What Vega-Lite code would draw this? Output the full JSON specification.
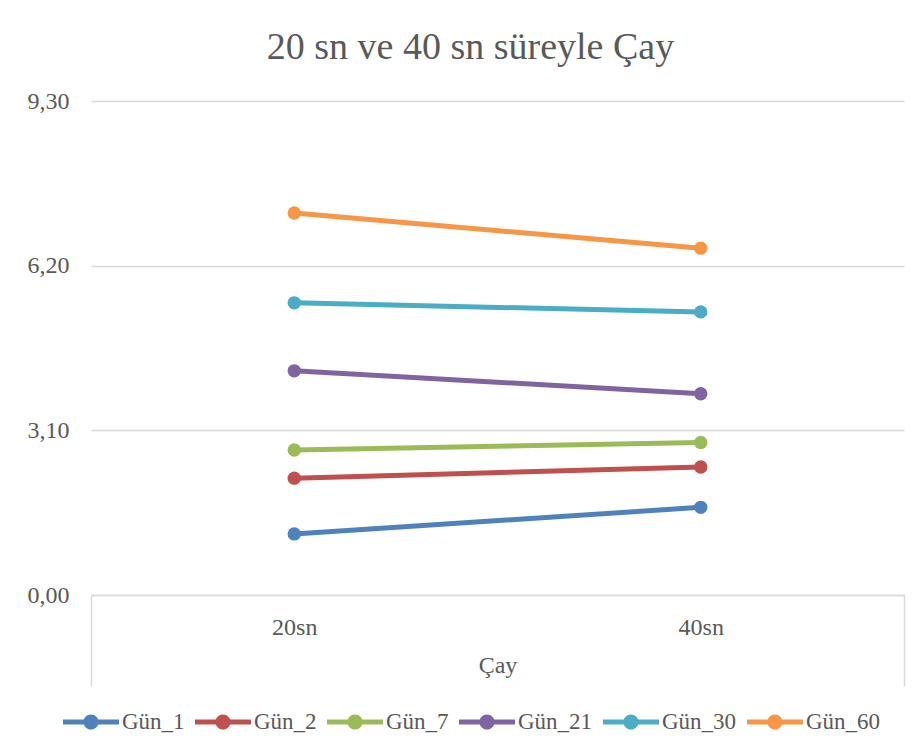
{
  "$schema": "https://vega.github.io/schema/vega-lite/v6.json",
  "width": 813,
  "height": 494,
  "autosize": "none",
  "padding": {"left": 91, "top": 101, "right": 20, "bottom": 161},
  "background": "white",
  "config": {
    "view": {"stroke": null},
    "font": "Liberation Serif"
  },
  "title": {
    "text": "20 sn ve 40 sn süreyle Çay",
    "font": "Liberation Serif",
    "fontSize": 38,
    "fontWeight": "normal",
    "color": "#595959",
    "anchor": "middle",
    "baseline": "alphabetic",
    "dx": -27,
    "offset": -8
  },
  "data": {
    "values": [
      {"gun": "Gün_1", "sure": "20sn", "deger": 1.15},
      {"gun": "Gün_1", "sure": "40sn", "deger": 1.65},
      {"gun": "Gün_2", "sure": "20sn", "deger": 2.20},
      {"gun": "Gün_2", "sure": "40sn", "deger": 2.41},
      {"gun": "Gün_7", "sure": "20sn", "deger": 2.73},
      {"gun": "Gün_7", "sure": "40sn", "deger": 2.87},
      {"gun": "Gün_21", "sure": "20sn", "deger": 4.22},
      {"gun": "Gün_21", "sure": "40sn", "deger": 3.79},
      {"gun": "Gün_30", "sure": "20sn", "deger": 5.50},
      {"gun": "Gün_30", "sure": "40sn", "deger": 5.33},
      {"gun": "Gün_60", "sure": "20sn", "deger": 7.19},
      {"gun": "Gün_60", "sure": "40sn", "deger": 6.53}
    ]
  },
  "encoding": {
    "x": {
      "field": "sure",
      "type": "nominal",
      "sort": ["20sn", "40sn"],
      "scale": {"type": "band", "paddingInner": 0, "paddingOuter": 0},
      "axis": {
        "title": "Çay",
        "titleFont": "Liberation Serif",
        "titleFontSize": 24,
        "titleFontWeight": "normal",
        "titleColor": "#595959",
        "titleBaseline": "alphabetic",
        "titleY": 77,
        "labelFont": "Liberation Serif",
        "labelFontSize": 24,
        "labelColor": "#595959",
        "labelAngle": 0,
        "labelBaseline": "alphabetic",
        "labelPadding": -52,
        "domain": true,
        "domainColor": "#d9d9d9",
        "domainWidth": 1.5,
        "ticks": true,
        "tickBand": "extent",
        "tickSize": 91,
        "tickWidth": 1.5,
        "tickColor": {"condition": {"test": "datum.value === '20sn'", "value": "transparent"}, "value": "#d9d9d9"},
        "grid": false
      }
    },
    "y": {
      "field": "deger",
      "type": "quantitative",
      "scale": {"domain": [0, 9.3], "nice": false, "zero": true},
      "axis": {
        "title": null,
        "values": [0, 3.1, 6.2, 9.3],
        "labelExpr": "replace(format(datum.value, '.2f'), '.', ',')",
        "labelFont": "Liberation Serif",
        "labelFontSize": 24,
        "labelColor": "#595959",
        "labelPadding": 22,
        "domain": false,
        "ticks": false,
        "grid": true,
        "gridColor": "#d9d9d9",
        "gridWidth": 1.5
      }
    },
    "color": {
      "field": "gun",
      "type": "nominal",
      "scale": {
        "domain": ["Gün_1", "Gün_2", "Gün_7", "Gün_21", "Gün_30", "Gün_60"],
        "range": ["#4F81BD", "#C0504D", "#9BBB59", "#8064A2", "#4BACC6", "#F79646"]
      },
      "legend": {
        "title": null,
        "orient": "none",
        "direction": "horizontal",
        "legendX": -28,
        "legendY": 593,
        "padding": 0,
        "symbolType": "M-1,-0.09H1V0.09H-1Z M0.27,0A0.27,0.27,0,1,1,-0.27,0A0.27,0.27,0,1,1,0.27,0Z",
        "symbolSize": 3136,
        "symbolStrokeWidth": 0,
        "labelFont": "Liberation Serif",
        "labelFontSize": 23,
        "labelColor": "#595959",
        "labelOffset": 3,
        "columnPadding": 10
      }
    }
  },
  "layer": [
    {"mark": {"type": "line", "strokeWidth": 5}},
    {"mark": {"type": "point", "filled": true, "size": 180, "opacity": 1}}
  ]
}
